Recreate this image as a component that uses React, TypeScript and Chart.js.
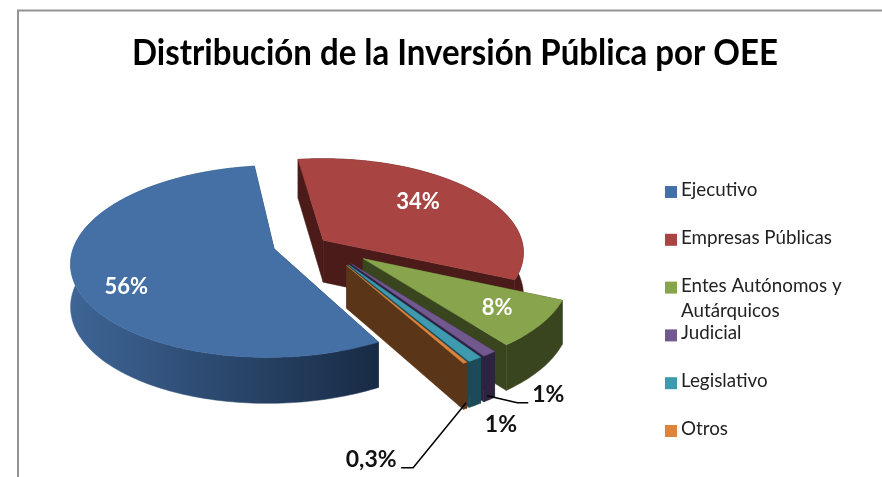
import React, { useEffect, useRef } from "react";
import { Chart, registerables } from "chart.js";

Chart.register(...registerables);

const TITLE = "Distribución de la Inversión Pública por OEE";
const categories = ["Ejecutivo", "Empresas Públicas", "Entes Autónomos y Autárquicos", "Judicial", "Legislativo", "Otros"];
const shares = [56, 34, 8, 1, 1, 0.3];
const topColors = ["#4470a6", "#a84442", "#88a44c", "#71588f", "#3f9ab0", "#dc843c"];
const sideColorsA = ["#3e6596", "#4a1b18", "#39451e", "#2d2340", "#1b4b58", "#5a3518"];
const sideColorsB = ["#182b45", "#4a1b18", "#39451e", "#2d2340", "#1b4b58", "#5a3518"];
const explode = [33.5, 4.7, 41, 41, 41, 41];
const drawOrder = [1, 2, 0, 3, 4, 5];
// label placement: radial fraction within slice, then a pixel nudge
const labelRadial = [0.72, 0.72, 0.72, 1, 1, 1];
const labelNudge = [[-5, 16], [-13, -1], [9, 3], [59, 41], [26, 65], [-94, 97]];
const labelColors = ["#ffffff", "#ffffff", "#ffffff", "#111111", "#111111", "#111111"];
const labelSizes = [22, 22, 22, 23, 23, 23];
// leader polylines, relative to the label centre
const leaders: number[][][] = [[], [], [], [[-61, 1], [-31, 8], [-20, 8]], [], [[95, -57], [42, 8], [30, 8]]];

const HUB_X = 318;
const HUB_Y = 242;
const SCREEN_R = 199;
const SQUASH = 0.465;
const PERSP = 0.13;
const DEPTH_PERSP = 0.08;
const DEPTH = 42;
const FONT = "Lato, 'Open Sans', sans-serif";

type P = [number, number];

function fmt(v: number) {
  return String(v).replace(".", ",") + "%";
}

const pie3d = {
  id: "pie3d",
  beforeDatasetsDraw(chart: any) {
    const ctx: CanvasRenderingContext2D = chart.ctx;
    const meta = chart.getDatasetMeta(0);
    const arcs = meta.data as any[];
    const R0 = arcs[0].outerRadius;
    const S = SCREEN_R / R0;
    const project = (u: number, v: number, z: number): P => {
      const s = 1 / (1 - PERSP * v);
      const sz = 1 / (1 - DEPTH_PERSP * v);
      return [HUB_X + SCREEN_R * u * s, HUB_Y + SCREEN_R * SQUASH * v * s + z * DEPTH * sz];
    };
    ctx.save();
    ctx.lineJoin = "round";
    const slices = arcs.map((a, i) => {
      const mid = (a.startAngle + a.endAngle) / 2;
      const off = (a.options.offset * S) / SCREEN_R;
      return { a, i, ox: Math.cos(mid) * off, oy: Math.sin(mid) * off, mid };
    });
    const pt = (sl: any, ang: number, r: number, z: number) =>
      project(sl.ox + Math.cos(ang) * r, sl.oy + Math.sin(ang) * r, z);
    const poly = (pts: P[], fill: string | CanvasGradient) => {
      ctx.beginPath();
      pts.forEach((p, k) => (k ? ctx.lineTo(p[0], p[1]) : ctx.moveTo(p[0], p[1])));
      ctx.closePath();
      ctx.fillStyle = fill;
      ctx.strokeStyle = fill;
      ctx.lineWidth = 0.5;
      ctx.fill();
      ctx.stroke();
    };
    drawOrder.forEach((idx) => {
      const sl = slices[idx];
      const { startAngle: a0, endAngle: a1 } = sl.a;
      const steps = Math.max(4, Math.ceil((a1 - a0) / 0.02));
      const arcPts = (z: number) => {
        const out: P[] = [];
        for (let k = 0; k <= steps; k++) out.push(pt(sl, a0 + ((a1 - a0) * k) / steps, 1, z));
        return out;
      };
      const apex0 = pt(sl, 0, 0, 0);
      const apex1 = pt(sl, 0, 0, 1);
      const top = arcPts(0);
      const bottom = arcPts(1);
      // radial walls
      poly([apex0, top[0], bottom[0], apex1], sideColorsB[idx]);
      poly([apex0, top[steps], bottom[steps], apex1], sideColorsB[idx]);
      // outer rim
      const xs = top.map((p) => p[0]);
      const g = ctx.createLinearGradient(Math.min(...xs), 0, Math.max(...xs), 0);
      g.addColorStop(0, sideColorsA[idx]);
      g.addColorStop(1, sideColorsB[idx]);
      poly([...top, ...bottom.slice().reverse()], g);
      // top
      poly([apex0, ...top], topColors[idx]);
    });
    // value labels
    ctx.textAlign = "center";
    ctx.textBaseline = "middle";
    slices.forEach((sl) => {
      const p = pt(sl, sl.mid, labelRadial[sl.i], 0);
      const lx = p[0] + labelNudge[sl.i][0];
      const ly = p[1] + labelNudge[sl.i][1];
      ctx.font = `bold ${labelSizes[sl.i]}px ${FONT}`;
      ctx.fillStyle = labelColors[sl.i];
      ctx.fillText(fmt(chart.data.datasets[0].data[sl.i]), lx, ly);
      const lead = leaders[sl.i];
      if (lead.length) {
        ctx.beginPath();
        lead.forEach((q, k) => (k ? ctx.lineTo(lx + q[0], ly + q[1]) : ctx.moveTo(lx + q[0], ly + q[1])));
        ctx.strokeStyle = "#000";
        ctx.lineWidth = 1.5;
        ctx.stroke();
      }
    });
    ctx.restore();
    return false;
  },
};

const frameAndLegend = {
  id: "frameAndLegend",
  beforeDraw(chart: any) {
    const ctx: CanvasRenderingContext2D = chart.ctx;
    ctx.save();
    ctx.fillStyle = "#fff";
    ctx.fillRect(0, 0, chart.width, chart.height);
    ctx.strokeStyle = "#939393";
    ctx.lineWidth = 2;
    ctx.strokeRect(18, 10.5, 900, 500);
    ctx.restore();
  },
  afterDraw(chart: any) {
    const ctx: CanvasRenderingContext2D = chart.ctx;
    ctx.save();
    ctx.font = `18.8px ${FONT}`;
    ctx.textBaseline = "middle";
    ctx.textAlign = "left";
    const labels: string[] = chart.data.labels;
    labels.forEach((label, i) => {
      const y = 190 + i * 47.8;
      ctx.fillStyle = chart.data.datasets[0].backgroundColor[i];
      ctx.fillRect(665, y - 4, 12, 12);
      ctx.fillStyle = "#222222";
      const words = label.split(" ");
      const lines: string[] = [];
      let cur = "";
      words.forEach((w) => {
        const t = cur ? cur + " " + w : w;
        if (ctx.measureText(t).width > 180 && cur) {
          lines.push(cur);
          cur = w;
        } else cur = t;
      });
      lines.push(cur);
      lines.forEach((l, k) => ctx.fillText(l, 681, y + k * 25));
    });
    ctx.restore();
  },
};

export default function App() {
  const ref = useRef<HTMLCanvasElement>(null);
  useEffect(() => {
    const chart = new Chart(ref.current!, {
      type: "pie",
      data: {
        labels: categories,
        datasets: [{ data: shares, backgroundColor: topColors, offset: explode, borderWidth: 0 }],
      },
      options: {
        animation: false,
        responsive: false,
        rotation: 151,
        layout: { padding: { left: 132, right: 104, bottom: 50, top: 0 } },
        plugins: {
          legend: { display: false },
          tooltip: { enabled: false },
          title: {
            display: true,
            text: TITLE,
            color: "#000",
            font: { family: FONT, weight: "bold", size: 37 },
            padding: { top: 31, bottom: 20 },
          },
        },
      },
      plugins: [pie3d, frameAndLegend],
    } as any);
    return () => chart.destroy();
  }, []);
  return (
    <div style={{ position: "fixed", left: 0, top: 0, width: 882, height: 477, background: "#fff" }}>
      <canvas ref={ref} width={882} height={477} style={{ display: "block" }} />
    </div>
  );
}
